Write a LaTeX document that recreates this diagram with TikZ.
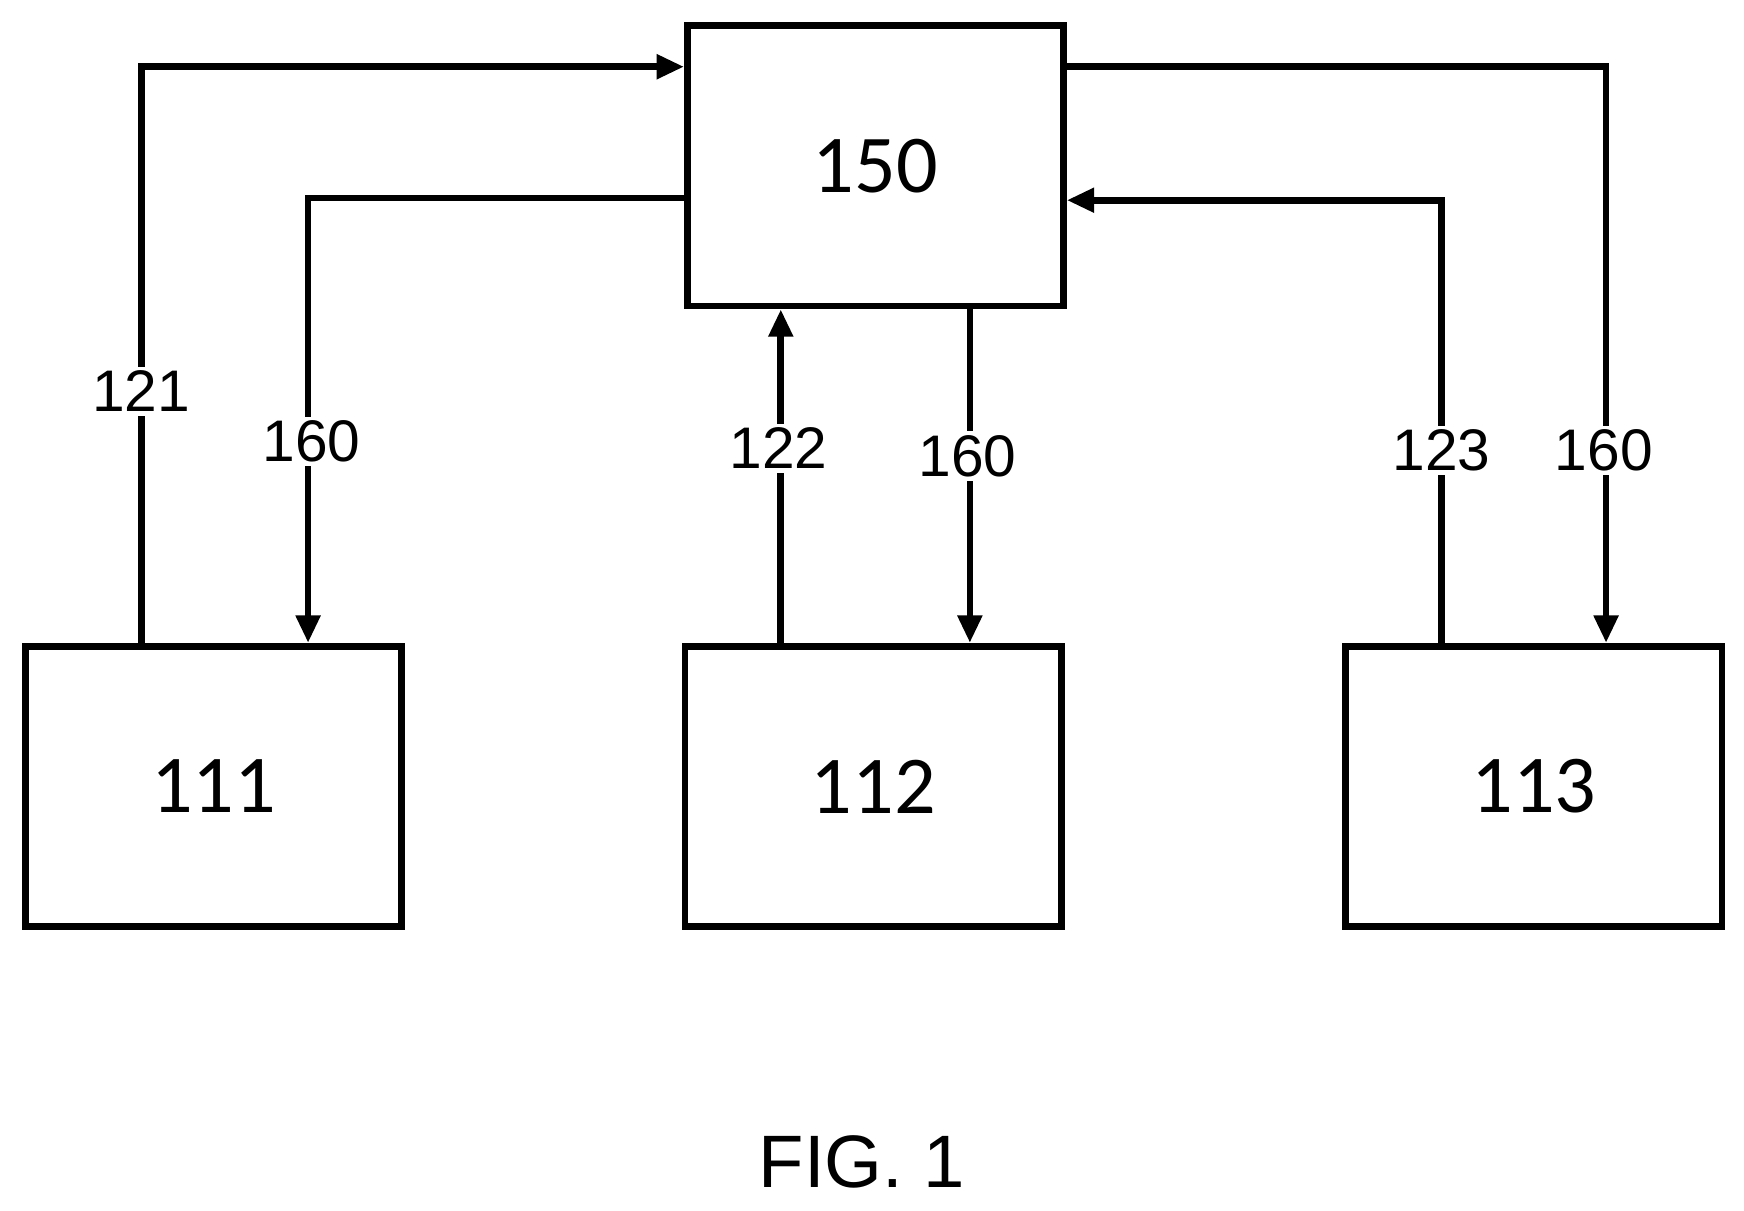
\documentclass[tikz,border=0pt]{standalone}
\usepackage{fontspec}
\setmainfont{Liberation Sans}
\newfontfamily\boxfont{Carlito}
\usetikzlibrary{arrows.meta, positioning, calc}
\begin{document}
\begin{tikzpicture}[x=0.01cm, y=-0.01cm,
    box/.style={rectangle, draw, line width=1.7pt, minimum width=3.38cm, minimum height=2.52cm, font=\boxfont\fontsize{21}{24}\selectfont},
    arrow/.style={-{Triangle[length=7pt, width=6pt]}, line width=1.7pt},
    lbl/.style={fill=white, inner sep=1pt, font=\fontsize{15}{18}\selectfont}
]
    \useasboundingbox (0,0) rectangle (1568,1088);
    % Hub
    \node[box, anchor=north west] (hub) at (615,20) {150};
    % Units
    \node[box, anchor=north west] (u1) at (20,578) {111};
    \node[box, anchor=north west] (u2) at (613,578) {112};
    \node[box, anchor=north west] (u3) at (1207,578) {113};
    % Corners
    \coordinate (c1) at (127,60);
    \coordinate (c2) at (277,178);
    \coordinate (c3) at (1296,180);
    \coordinate (c4) at (1444,60);
    % Arrows
    \draw[arrow] (u1.north -| c1) -- (c1) -- (c1 -| hub.west);
    \draw[arrow] (c2 -| hub.west) -- (c2) -- (c2 |- u1.north);
    \draw[arrow] (u2.north -| 702,0) -- (hub.south -| 702,0);
    \draw[arrow] (hub.south -| 872,0) -- (u2.north -| 872,0);
    \draw[arrow] (u3.north -| c3) -- (c3) -- (c3 -| hub.east);
    \draw[arrow] (c4 -| hub.east) -- (c4) -- (c4 |- u3.north);
    % Labels
    \node[lbl] (l121) at (127,352) {121};
    \node[lbl] (l160a) at (280,397) {160};
    \node[lbl] (l122) at (700,403) {122};
    \node[lbl] (l160b) at (870,410) {160};
    \node[lbl] (l123) at (1296,405) {123};
    \node[lbl] (l160c) at (1442,405) {160};
    \node[font=\fontsize{19}{22}\selectfont] (fig) at (775,1045) {FIG. 1};
\end{tikzpicture}
\end{document}
